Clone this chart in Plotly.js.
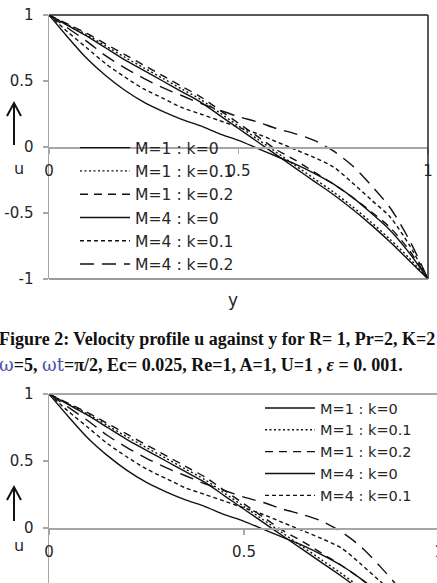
<!DOCTYPE html>
<html>
<head>
<meta charset="utf-8">
<script src="https://cdn.plot.ly/plotly-3.0.1.min.js"></script>
<style>
  html, body { margin: 0; padding: 0; overflow: hidden; background: #fff; width: 437px; height: 583px; }
  #fig { width: 445px; height: 680px; }
</style>
</head>
<body>
<div id="fig"></div>
<script>
// Velocity profile u(y) for two Hartmann numbers M and three values of k
const yPos = [0, 0.05, 0.1, 0.15, 0.2, 0.25, 0.3, 0.35, 0.4, 0.45, 0.5,
              0.55, 0.6, 0.65, 0.7, 0.75, 0.8, 0.85, 0.9, 0.95, 1];

const uM1k0  = [1, 0.92, 0.84, 0.75, 0.66, 0.58, 0.50, 0.42, 0.34, 0.24, 0.14,
                0.04, -0.06, -0.16, -0.26, -0.36, -0.47, -0.59, -0.72, -0.86, -1];
const uM1k01 = [1, 0.925, 0.85, 0.765, 0.68, 0.60, 0.52, 0.44, 0.36, 0.26, 0.16,
                0.06, -0.04, -0.14, -0.24, -0.34, -0.45, -0.57, -0.70, -0.84, -1];
const uM1k02 = [1, 0.93, 0.86, 0.78, 0.70, 0.62, 0.54, 0.46, 0.38, 0.28, 0.18,
                0.08, -0.02, -0.10, -0.19, -0.28, -0.38, -0.49, -0.61, -0.78, -1];
const uM4k0  = [1, 0.83, 0.67, 0.54, 0.43, 0.34, 0.27, 0.21, 0.16, 0.10, 0.05,
                -0.01, -0.07, -0.13, -0.20, -0.28, -0.38, -0.50, -0.63, -0.80, -1];
const uM4k01 = [1, 0.87, 0.75, 0.63, 0.53, 0.44, 0.37, 0.30, 0.25, 0.20, 0.15,
                0.10, 0.04, -0.02, -0.08, -0.15, -0.27, -0.40, -0.53, -0.74, -1];
const uM4k02 = [1, 0.90, 0.80, 0.69, 0.60, 0.52, 0.45, 0.39, 0.33, 0.28, 0.23,
                0.19, 0.14, 0.10, 0.05, -0.03, -0.14, -0.29, -0.46, -0.70, -1];

const seriesNames = ['M=1 : k=0', 'M=1 : k=0.1', 'M=1 : k=0.2',
                     'M=4 : k=0', 'M=4 : k=0.1', 'M=4 : k=0.2'];
const seriesValues = [uM1k0, uM1k01, uM1k02, uM4k0, uM4k01, uM4k02];
const seriesDash = ['solid', '2px,2.5px', '8px,6px', 'solid', '4px,3px', '14px,8px'];

const xTickVals = [0, 0.5, 1];
const xTickText = ['0', '0.5', '1'];
const yTickVals = [-1, -0.5, 0, 0.5, 1];
const yTickText = ['-1', '-0.5', '0', '0.5', '1'];
// the lower panel runs past the bottom of the page; only its upper ticks show
const yTickVals2 = [0, 0.5, 1];
const yTickText2 = ['0', '0.5', '1'];

const W = 445, H = 680;
const px = v => v / W;
const py = v => 1 - v / H;

const FONT = 'DejaVu Sans, sans-serif';
const INK = '#262626';
const AXIS = '#a6a6a6';

const traces = [];
['', '2'].forEach((sfx, panel) => {
  seriesNames.forEach((name, i) => {
    traces.push({
      x: yPos, y: seriesValues[i], name: name,
      type: 'scatter', mode: 'lines',
      xaxis: 'x' + sfx, yaxis: 'y' + sfx,
      legend: panel === 0 ? 'legend' : 'legend2',
      showlegend: !(panel === 1 && i === 5),
      line: { color: '#111', width: 1.4, dash: seriesDash[i], shape: 'spline', smoothing: 0.8 }
    });
  });
});

function xAxis(domain, zeroY) {
  return {
    domain: domain, range: [0, 1], anchor: 'free', position: py(zeroY),
    showline: true, linecolor: AXIS, linewidth: 1.5,
    ticks: 'outside', ticklen: 5, tickcolor: AXIS, tickwidth: 1.2,
    tickvals: xTickVals, ticktext: xTickText, ticklabelstandoff: 4,
    showgrid: false, zeroline: false,
    tickfont: { family: FONT, size: 15, color: INK }
  };
}
function yAxis(domain, anchor, vals, text) {
  return {
    domain: domain, range: [-1, 1], anchor: anchor,
    showline: true, linecolor: AXIS, linewidth: 1.5,
    ticks: 'outside', ticklen: 5, tickcolor: AXIS, tickwidth: 1.2,
    tickvals: vals, ticktext: text, ticklabelstandoff: 6,
    showgrid: false, zeroline: false,
    tickfont: { family: FONT, size: 15, color: INK }
  };
}

function border(xr, yr, x0, y0, x1, y1, color) {
  return { type: 'line', xref: xr + ' domain', yref: yr + ' domain',
           x0: x0, y0: y0, x1: x1, y1: y1, line: { color: color, width: 1.5 } };
}
function upArrow(xc, top, bottom) {
  const p = (x, y) => px(x) + ',' + py(y);
  return { type: 'path', xref: 'paper', yref: 'paper',
           path: 'M' + p(xc, bottom) + ' L' + p(xc, top) +
                 ' M' + p(xc - 7, top + 13) + ' L' + p(xc, top) + ' L' + p(xc + 7, top + 13),
           line: { color: '#111', width: 2 } };
}
function label(text, x, y, size, opts) {
  return Object.assign({ text: text, xref: 'paper', yref: 'paper', x: px(x), y: py(y),
           showarrow: false, xanchor: 'center', yanchor: 'middle',
           font: { family: FONT, size: size, color: INK } }, opts || {});
}

const legendStyle = {
  bgcolor: 'rgba(0,0,0,0)', borderwidth: 0, itemwidth: 50,
  xanchor: 'left', yanchor: 'top', tracegroupgap: 0
};

const OMEGA = '<span style="color:#4d4fa8;font-family:DejaVu Serif;font-weight:normal">';
const caption1 = '<b>Figure 2: Velocity profile u against y for R= 1, Pr=2, K=2</b>';
const caption2 = '<b>' + OMEGA + 'ω</b><b>=5, </b>' + OMEGA + 'ωt</span><b>=π/2, Ec= 0.025, Re=1, A=1, U=1 , </b>' +
                 '<i>ε</i><b> = 0. 001.</b>';
const captionFont = { family: 'Liberation Serif, serif', size: 18, color: '#111' };

const layout = {
  width: W, height: H, margin: { l: 0, r: 0, t: 0, b: 0 },
  paper_bgcolor: '#fff', plot_bgcolor: '#fff',
  xaxis: xAxis([px(49), px(428)], 147),
  yaxis: yAxis([py(279), py(15)], 'x', yTickVals, yTickText),
  xaxis2: xAxis([px(49), px(439)], 528),
  yaxis2: yAxis([py(662), py(394)], 'x2', yTickVals2, yTickText2),
  legend: Object.assign({}, legendStyle, { x: px(75), y: py(131),
          font: { family: FONT, size: 15.6, color: INK } }),
  legend2: Object.assign({}, legendStyle, { x: px(260), y: py(392),
          font: { family: FONT, size: 14.5, color: INK } }),
  shapes: [
    border('x', 'y', 0, 1, 1, 1, '#222'),
    border('x', 'y', 1, 0, 1, 1, '#222'),
    border('x', 'y', 0, 0, 1, 0, '#7a7a7a'),
    border('x2', 'y2', 0, 1, 1, 1, '#8a8a8a'),
    border('x2', 'y2', 1, 0, 1, 1, '#222'),
    upArrow(14, 103, 145),
    upArrow(14, 487, 521)
  ],
  annotations: [
    label('u', 19, 168, 16),
    label('y', 233, 300, 17),
    label('u', 19, 545, 16),
    label(caption1, -3, 339, 18, { xanchor: 'left', font: captionFont }),
    label(caption2, -3, 364, 18, { xanchor: 'left', font: captionFont })
  ],
  showlegend: true
};

Plotly.newPlot('fig', traces, layout, { displayModeBar: false, staticPlot: true });
</script>
</body>
</html>
